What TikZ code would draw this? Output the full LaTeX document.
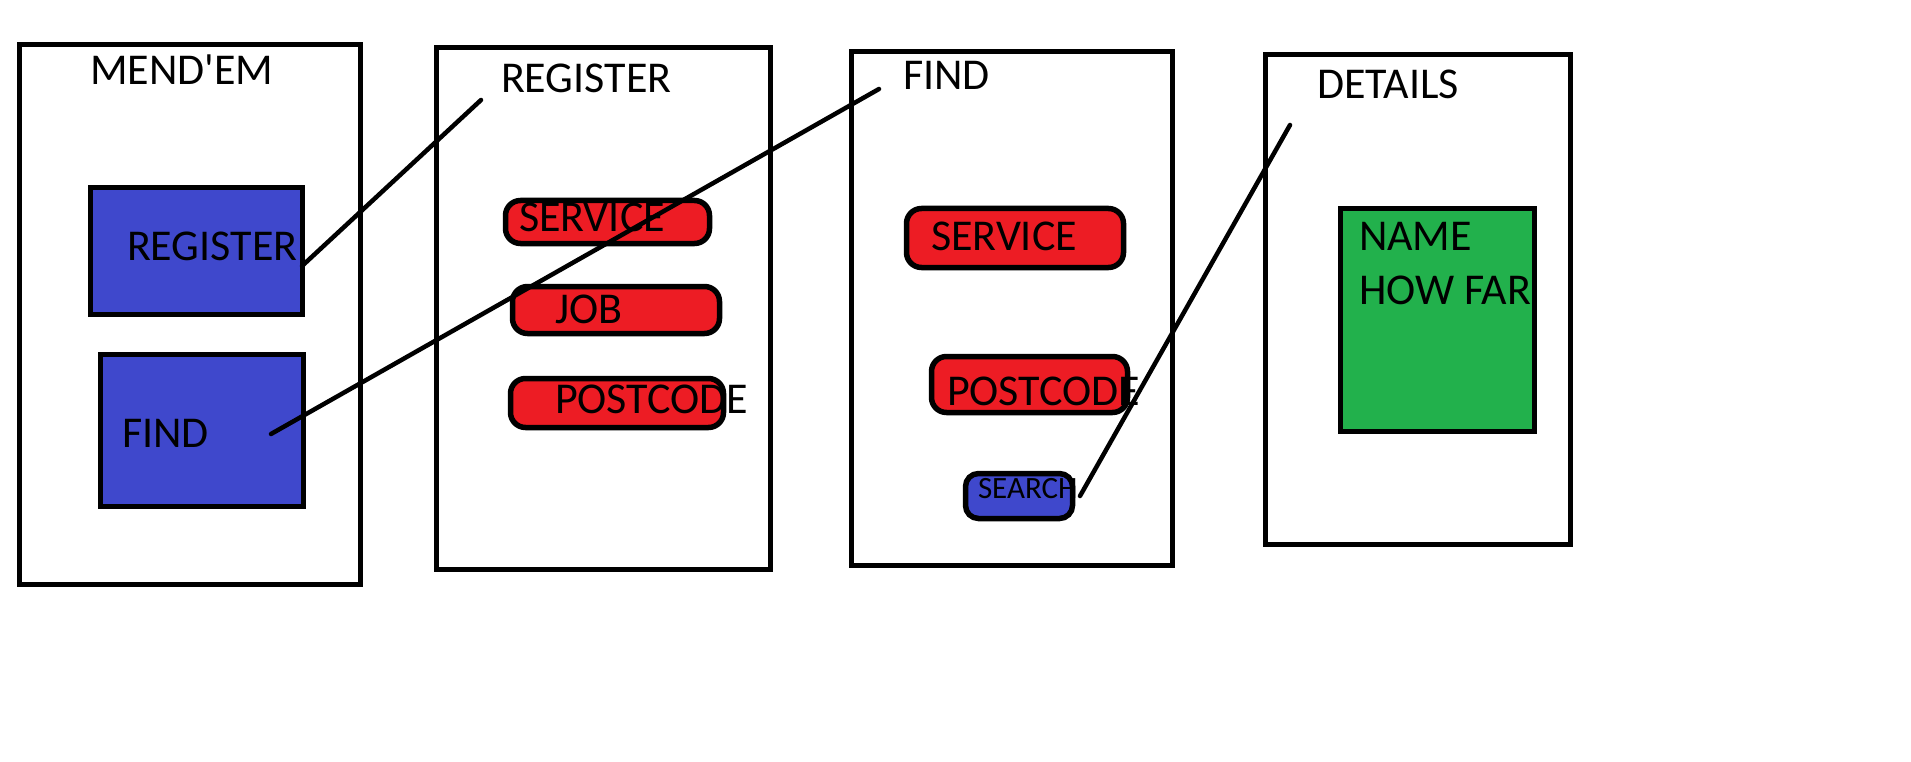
\documentclass[tikz,border=0pt]{standalone}
\usepackage{fontspec}
\setmainfont{Carlito}
\definecolor{pblue}{HTML}{3F48CC}
\definecolor{pred}{HTML}{ED1C24}
\definecolor{pgreen}{HTML}{22B14C}
\begin{document}
\begin{tikzpicture}[x=1pt,y=-1pt,
  frame/.style={draw=black,line width=5pt,inner sep=0pt,outer sep=0pt,rectangle},
  bluebox/.style={frame,fill=pblue},
  greenbox/.style={frame,fill=pgreen},
  pill/.style={frame,line width=5.5pt,fill=pred,rounded corners=15pt},
  bluepill/.style={frame,line width=5.5pt,fill=pblue,rounded corners=13pt},
  lbl/.style={inner sep=0pt,outer sep=0pt,anchor=base west,font=\fontsize{44}{50}\selectfont},
  smalllbl/.style={lbl,font=\fontsize{31}{36}\selectfont},
  conn/.style={draw=black,line width=4.5pt,line cap=round}]
\useasboundingbox[fill=white] (0,0) rectangle (1911,762);
% screens
\node[frame,minimum width=341pt,minimum height=540pt] (s1) at (190,314.5) {};
\node[frame,minimum width=334pt,minimum height=522pt] (s2) at (603.5,308.5) {};
\node[frame,minimum width=321pt,minimum height=514pt] (s3) at (1012,308.5) {};
\node[frame,minimum width=305pt,minimum height=490pt] (s4) at (1418,299.5) {};
% buttons in first screen
\node[bluebox,minimum width=212pt,minimum height=127pt] (b1) at (196.5,251) {};
\node[bluebox,minimum width=203pt,minimum height=152pt] (b2) at (202,430.5) {};
% register fields
\node[pill,minimum width=204pt,minimum height=43pt] (r1) at (607.5,222) {};
\node[pill,minimum width=207pt,minimum height=47pt] (r2) at (616,310) {};
\node[pill,minimum width=213pt,minimum height=49pt] (r3) at (617,403) {};
% find fields
\node[pill,minimum width=217pt,minimum height=59pt] (f1) at (1015,238) {};
\node[pill,minimum width=196pt,minimum height=56pt] (f2) at (1029.5,384.5) {};
\node[bluepill,minimum width=107pt,minimum height=45pt] (f3) at (1019,496) {};
% details
\node[greenbox,minimum width=194pt,minimum height=223pt] (g1) at (1437.5,320) {};
% texts
\node[lbl] (t1) at (90,85) {MEND\textquotesingle EM};
\node[lbl] (t2) at (501,93) {REGISTER};
\node[lbl] (t3) at (903,90) {FIND};
\node[lbl] (t4) at (1317,99) {DETAILS};
\node[lbl] (tb1) at (127,260) {REGISTER};
\node[lbl] (tb2) at (122,447) {FIND};
\node[lbl] (tr1) at (519,232) {SERVICE};
\node[lbl] (tr2) at (555,323) {JOB};
\node[lbl] (tr3) at (555,413) {POSTCODE};
\node[lbl] (tf1) at (931,251) {SERVICE};
\node[lbl] (tf2) at (947,405) {POSTCODE};
\node[smalllbl] (tf3) at (978,498) {SEARCH};
\node[lbl] (tg1) at (1359,250) {NAME};
\node[lbl] (tg2) at (1359,304) {HOW FAR};
% connectors
\coordinate (c1a) at (302,266);
\coordinate (c1b) at (481,100);
\coordinate (c2a) at (271,434);
\coordinate (c2b) at (879,89);
\coordinate (c3a) at (1080,496);
\coordinate (c3b) at (1290,125);
\draw[conn] (c1a) -- (c1b);
\draw[conn] (c2a) -- (c2b);
\draw[conn] (c3a) -- (c3b);
\end{tikzpicture}
\end{document}
